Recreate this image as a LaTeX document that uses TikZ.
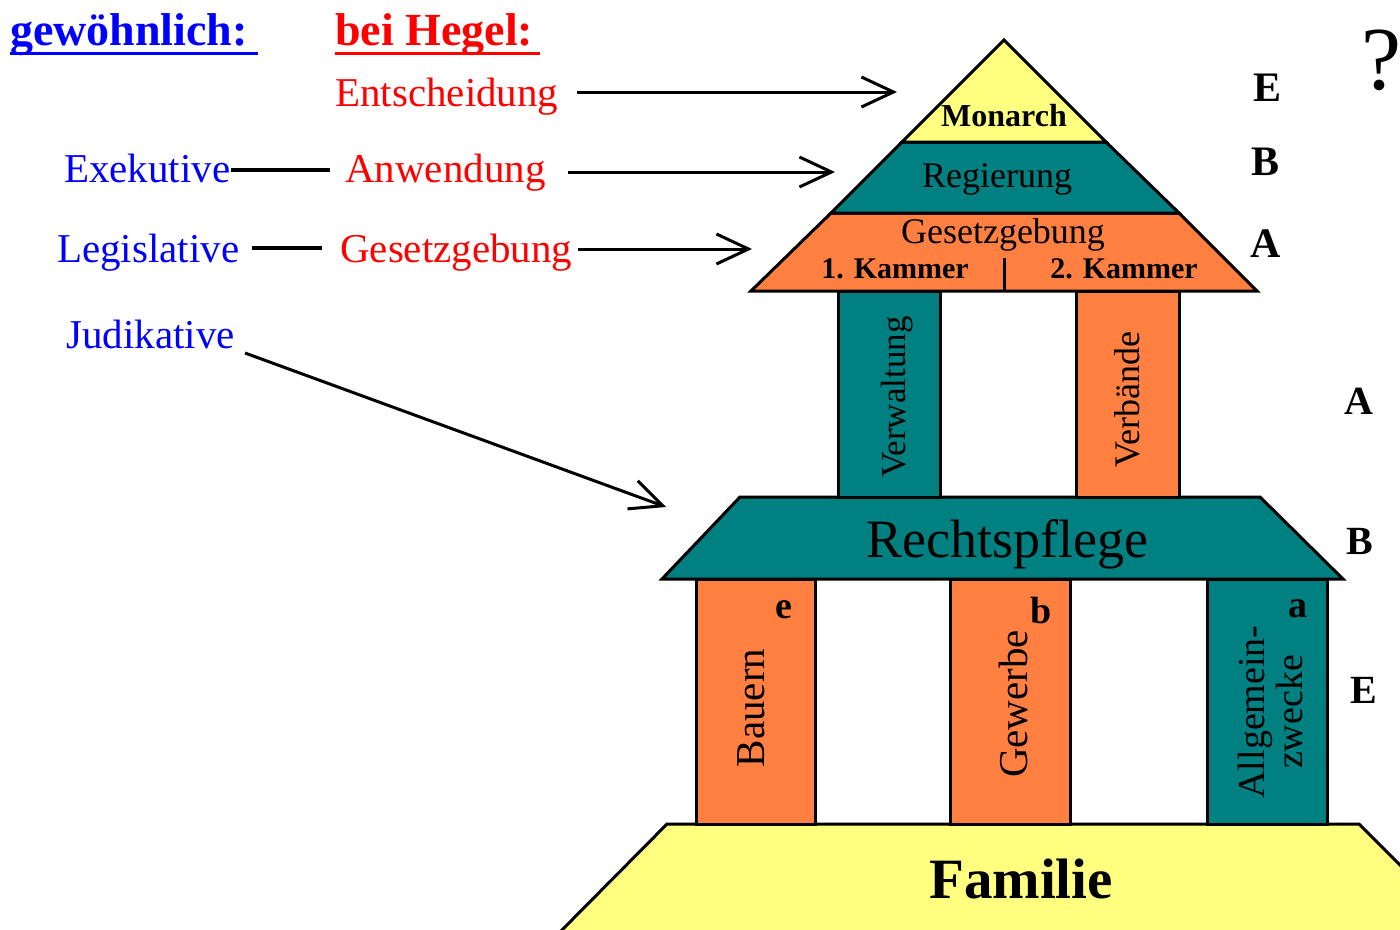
\documentclass[tikz,border=0pt]{standalone}
\usepackage{fontspec}
\setmainfont{Liberation Serif}
\usetikzlibrary{arrows.meta}
\definecolor{tealc}{RGB}{0,128,128}
\definecolor{orngc}{RGB}{255,128,64}
\definecolor{ylwc}{RGB}{255,255,128}
\definecolor{bluc}{RGB}{0,0,255}
\definecolor{redc}{RGB}{255,0,0}
\newcommand{\fsz}[1]{\fontsize{#1}{#1}\selectfont}
\begin{document}
\begin{tikzpicture}[x=1pt,y=-1pt,
  part/.style={draw=black, line width=3pt, line join=miter},
  lbl/.style={inner sep=0pt, anchor=base west, font=\fsz{41}},
  head/.style={inner sep=0pt, anchor=base west, font=\fsz{46}\bfseries},
  ptext/.style={inner sep=0pt, anchor=base},
  vtext/.style={inner sep=0pt, rotate=90},
  side/.style={inner sep=0pt, font=\fsz{42}\bfseries},
  arr/.style={line width=3pt, -{Straight Barb[length=32pt,width=30pt]}},
  link/.style={line width=3.5pt}
]
\useasboundingbox (0,0) rectangle (1400,929);
\clip (0,0) rectangle (1400,929);

% ---------- building ----------
% Familie
\path[part, fill=ylwc] (557,935) -- (667,824) -- (1359,824) -- (1470,935) -- cycle;
% lower columns
\path[part, fill=orngc] (696,579) rectangle (815,824);
\path[part, fill=orngc] (950,579) rectangle (1070,824);
\path[part, fill=tealc] (1207,579) rectangle (1327,824);
% Rechtspflege
\path[part, fill=tealc] (662,579) -- (740,497) -- (1260,497) -- (1343,579) -- cycle;
% upper columns
\path[part, fill=tealc] (838,291) rectangle (940,497);
\path[part, fill=orngc] (1076,291) rectangle (1179,497);
% Gesetzgebung
\path[part, fill=orngc] (751,291) -- (831,213) -- (1179,213) -- (1257,291) -- cycle;
% Regierung
\path[part, fill=tealc] (831,213) -- (902,142) -- (1106,142) -- (1179,213) -- cycle;
% Monarch
\path[part, fill=ylwc] (902,142) -- (1004,40) -- (1106,142) -- cycle;
% divider
\draw[line width=3pt] (1004,258) -- (1004,291);

% ---------- building texts ----------
\node[ptext, font=\fsz{32}\bfseries] (monarch) at (1004,126) {Monarch};
\node[ptext, font=\fsz{36}] (regierung) at (997,187) {Regierung};
\node[ptext, font=\fsz{36}] (gesetz) at (1003,243) {Gesetzgebung};
\node[ptext, font=\fsz{30}\bfseries] (k1) at (895,278) {1. Kammer};
\node[ptext, font=\fsz{30}\bfseries] (k2) at (1124,278) {2. Kammer};
\node[vtext, font=\fsz{35}] (verw) at (897,397) {Verwaltung};
\node[vtext, font=\fsz{36}] (verb) at (1127,400) {Verbände};
\node[ptext, font=\fsz{54}] (recht) at (1007,557) {Rechtspflege};
\node[vtext, font=\fsz{41}] (bauern) at (751,708) {Bauern};
\node[vtext, font=\fsz{41}] (gewerbe) at (1013,704) {Gewerbe};
\node[vtext, font=\fsz{38}, align=center, text depth=0pt] (allg) at (1270,712) {\fontsize{38}{47}\selectfont Allgemein-\\zwecke};
\node[inner sep=0pt, font=\fsz{38}\bfseries] (le) at (784,610) {e};
\node[inner sep=0pt, font=\fsz{38}\bfseries] (lb) at (1041,610) {b};
\node[inner sep=0pt, font=\fsz{38}\bfseries] (la) at (1298,609) {a};
\node[ptext, font=\fsz{57}\bfseries] (familie) at (1021,898) {Familie};

% ---------- side letters ----------
\node[side] (sE1) at (1267,88) {E};
\node[side] (sB1) at (1265,162) {B};
\node[side] (sA1) at (1266,244) {A};
\node[side, font=\fsz{40}\bfseries] (sA2) at (1359,401) {A};
\node[side, font=\fsz{40}\bfseries] (sB2) at (1360,541) {B};
\node[side, font=\fsz{40}\bfseries] (sE2) at (1364,690) {E};
\node[inner sep=0pt, font=\fsz{90}] (quest) at (1381,60) {?};

% ---------- left labels ----------
\node[head, text=bluc] (gew) at (10,45) {gewöhnlich:};
\node[head, text=redc] (heg) at (335,45) {bei Hegel:};
\draw[bluc, line width=3pt] (10,53.5) -- (258,53.5);
\draw[redc, line width=3pt] (335,53.5) -- (540,53.5);

\node[lbl, text=redc] (ent) at (335,106) {Entscheidung};
\node[lbl, text=bluc] (exe) at (64,182) {Exekutive};
\node[lbl, text=redc] (anw) at (345,182) {Anwendung};
\node[lbl, text=bluc] (leg) at (57,262) {Legislative};
\node[lbl, text=redc] (ges) at (340,262) {Gesetzgebung};
\node[lbl, text=bluc] (jud) at (66,348) {Judikative};

% ---------- connectors ----------
\coordinate (tEnt) at (897,92);
\coordinate (tAnw) at (835,172);
\coordinate (tGes) at (752,249);
\coordinate (tJud) at (666,507);
\coordinate (sJud) at (245,353);
\coordinate (yExe) at (0,170);
\coordinate (yLeg) at (0,248);

\draw[link] (exe.east |- yExe) -- ([xshift=-15pt]anw.west |- yExe);
\draw[link] ([xshift=12pt]leg.east |- yLeg) -- ([xshift=-18pt]ges.west |- yLeg);
\draw[arr] ([xshift=18pt]ent.east |- tEnt) -- (tEnt);
\draw[arr] ([xshift=22pt]anw.east |- tAnw) -- (tAnw);
\draw[arr] ([xshift=5pt]ges.east |- tGes) -- (tGes);
\draw[arr] (sJud) -- (tJud);
\end{tikzpicture}
\end{document}
